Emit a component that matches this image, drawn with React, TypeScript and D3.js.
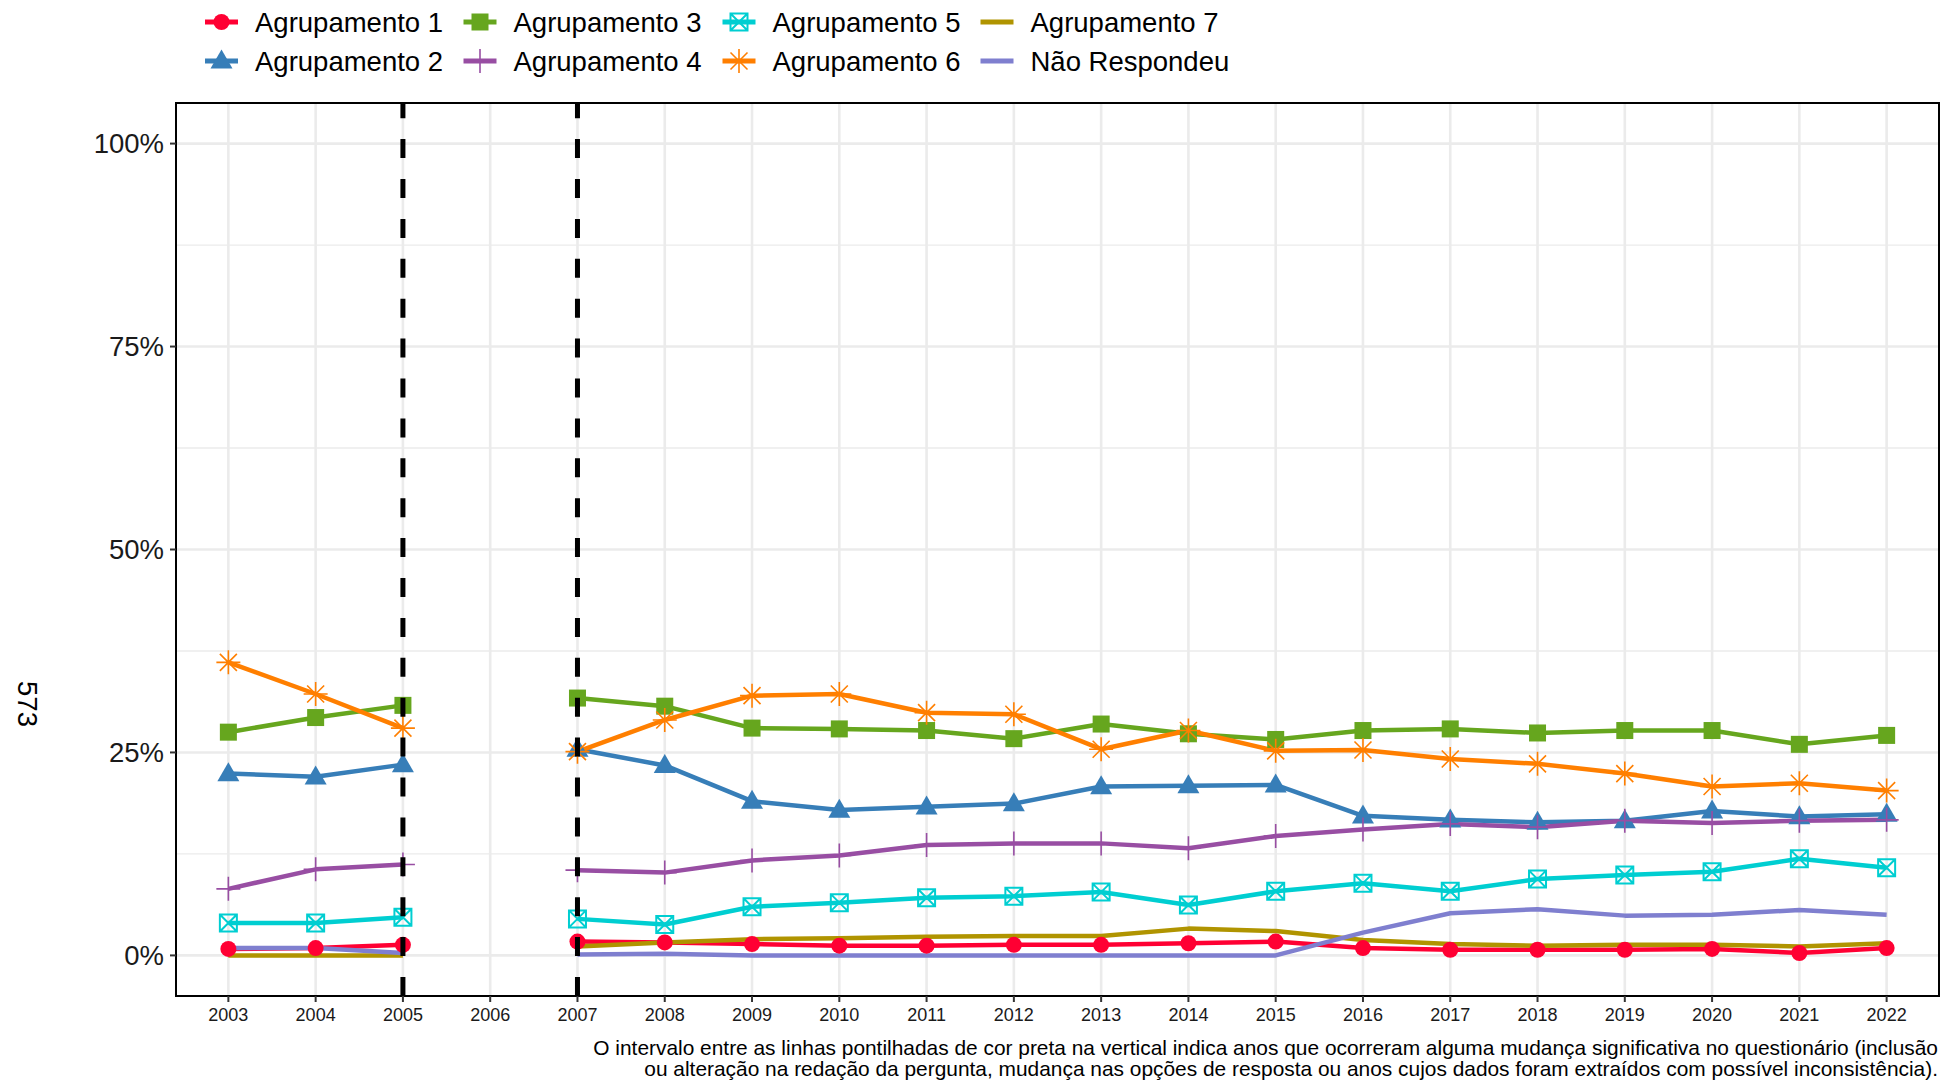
import React from "react";
import * as d3 from "d3";

const years = ["2003","2004","2005","2006","2007","2008","2009","2010","2011","2012","2013","2014","2015","2016","2017","2018","2019","2020","2021","2022"];

const agrup1 = [0.8, 0.9, 1.3, null, 1.7, 1.6, 1.4, 1.2, 1.2, 1.3, 1.3, 1.5, 1.7, 0.9, 0.7, 0.7, 0.7, 0.8, 0.3, 0.9];
const agrup2 = [22.4, 22.0, 23.5, null, 25.4, 23.4, 19.0, 17.9, 18.3, 18.7, 20.8, 20.9, 21.0, 17.2, 16.7, 16.4, 16.6, 17.8, 17.1, 17.4];
const agrup3 = [27.5, 29.3, 30.8, null, 31.7, 30.7, 28.0, 27.9, 27.7, 26.7, 28.5, 27.3, 26.6, 27.7, 27.9, 27.4, 27.7, 27.7, 26.0, 27.1];
const agrup4 = [8.2, 10.6, 11.2, null, 10.5, 10.2, 11.7, 12.3, 13.6, 13.8, 13.8, 13.2, 14.7, 15.5, 16.2, 15.8, 16.6, 16.3, 16.6, 16.7];
const agrup5 = [4.0, 4.0, 4.7, null, 4.5, 3.8, 6.0, 6.5, 7.1, 7.3, 7.8, 6.2, 7.9, 8.9, 7.9, 9.4, 9.9, 10.3, 11.9, 10.8];
const agrup6 = [36.1, 32.2, 28.0, null, 25.1, 29.0, 32.0, 32.2, 29.9, 29.7, 25.4, 27.7, 25.2, 25.3, 24.2, 23.6, 22.4, 20.8, 21.2, 20.3];
const agrup7 = [0.0, 0.0, 0.0, null, 1.1, 1.6, 2.0, 2.1, 2.3, 2.4, 2.4, 3.3, 3.0, 1.9, 1.4, 1.2, 1.3, 1.3, 1.1, 1.5];
const naoResp = [0.9, 0.9, 0.3, null, 0.1, 0.2, 0.0, 0.0, 0.0, 0.0, 0.0, 0.0, 0.0, 2.8, 5.2, 5.7, 4.9, 5.0, 5.6, 5.0];

const seriesNames = ["Agrupamento 1", "Agrupamento 2", "Agrupamento 3", "Agrupamento 4", "Agrupamento 5", "Agrupamento 6", "Agrupamento 7", "Não Respondeu"];
const seriesValues = [agrup1, agrup2, agrup3, agrup4, agrup5, agrup6, agrup7, naoResp];
const seriesColors = ["#FF0033", "#377EB8", "#66A61E", "#984EA3", "#00CED1", "#FF7F00", "#B09400", "#7F7FCF"];
const seriesShapes = ["circle", "triangle", "square", "plus", "boxx", "asterisk", "none", "none"];

const yTicks = [0, 25, 50, 75, 100];
const yMinor = [12.5, 37.5, 62.5, 87.5];
const markerYears = ["2005", "2007"];
const yTitle = "573";
const captionLines = [
  "O intervalo entre as linhas pontilhadas de cor preta na vertical indica anos que ocorreram alguma mudança significativa no questionário (inclusão",
  "ou alteração na redação da pergunta, mudança nas opções de resposta ou anos cujos dados foram extraídos com possível inconsistência).",
];

const FONT = "'Liberation Sans', Arial, Helvetica, sans-serif";

function Marker({ shape, color, cx, cy, s = 1 }) {
  if (shape === "circle") return <circle cx={cx} cy={cy} r={8 * s} fill={color} />;
  if (shape === "triangle") {
    const w = 11 * s, h = 19 * s;
    return <path d={`M${cx},${cy - h * 0.6} L${cx + w},${cy + h * 0.4} L${cx - w},${cy + h * 0.4} Z`} fill={color} />;
  }
  if (shape === "square") {
    const a = 8.5 * s;
    return <rect x={cx - a} y={cy - a} width={2 * a} height={2 * a} fill={color} />;
  }
  if (shape === "plus") {
    const a = 12 * s;
    return <path d={`M${cx - a},${cy} H${cx + a} M${cx},${cy - a} V${cy + a}`} stroke={color} strokeWidth={1.6} fill="none" />;
  }
  if (shape === "boxx") {
    const a = 8.5 * s;
    return (
      <path
        d={`M${cx - a},${cy - a} H${cx + a} V${cy + a} H${cx - a} Z M${cx - a},${cy - a} L${cx + a},${cy + a} M${cx + a},${cy - a} L${cx - a},${cy + a}`}
        stroke={color} strokeWidth={2} fill="none"
      />
    );
  }
  if (shape === "asterisk") {
    const a = 12 * s, b = 8.5 * s;
    return (
      <path
        d={`M${cx - a},${cy} H${cx + a} M${cx},${cy - a} V${cy + a} M${cx - b},${cy - b} L${cx + b},${cy + b} M${cx + b},${cy - b} L${cx - b},${cy + b}`}
        stroke={color} strokeWidth={1.6} fill="none"
      />
    );
  }
  return null;
}

export default function App() {
  const W = 1944, H = 1082;
  const left = 176, right = 1939, top = 103, bottom = 996;

  const x = d3.scalePoint().domain(years).range([left, right]).padding(0.6);
  const y = d3.scaleLinear().domain([-5, 105]).range([bottom, top]);

  const line = d3
    .line()
    .defined((d) => d[1] != null)
    .x((d) => x(d[0]))
    .y((d) => y(d[1]));

  const legendKeyX = [221.5, 480, 739, 997];
  const legendRowY = [22, 61];

  return (
    <div style={{ position: "absolute", left: 0, top: 0 }}>
      <svg width={W} height={H} style={{ display: "block", background: "#fff" }} fontFamily={FONT}>
        <rect x={0} y={0} width={W} height={H} fill="#fff" />
        <clipPath id="panelClip">
          <rect x={left} y={top} width={right - left} height={bottom - top} />
        </clipPath>

        {/* grid */}
        {yMinor.map((t) => (
          <line key={"mn" + t} x1={left} x2={right} y1={y(t)} y2={y(t)} stroke="#EBEBEB" strokeWidth={1.3} />
        ))}
        {yTicks.map((t) => (
          <line key={"mj" + t} x1={left} x2={right} y1={y(t)} y2={y(t)} stroke="#EBEBEB" strokeWidth={2.6} />
        ))}
        {years.map((yr) => (
          <line key={"vx" + yr} x1={x(yr)} x2={x(yr)} y1={top} y2={bottom} stroke="#EBEBEB" strokeWidth={2.6} />
        ))}

        {/* lines */}
        {seriesValues.map((vals, i) => (
          <path
            key={"l" + i}
            d={line(years.map((yr, j) => [yr, vals[j]]))}
            fill="none"
            stroke={seriesColors[i]}
            strokeWidth={4.5}
            strokeLinejoin="round"
          />
        ))}

        {/* points */}
        {seriesValues.map((vals, i) =>
          years.map((yr, j) =>
            vals[j] == null ? null : (
              <Marker key={"p" + i + "-" + j} shape={seriesShapes[i]} color={seriesColors[i]} cx={x(yr)} cy={y(vals[j])} />
            )
          )
        )}

        {/* dashed vertical lines (drawn from bottom up) */}
        <g clipPath="url(#panelClip)">
          {markerYears.map((yr) => (
            <line key={"dv" + yr} x1={x(yr)} x2={x(yr)} y1={bottom} y2={top - 20} stroke="#000" strokeWidth={5} strokeDasharray="19,20.9" />
          ))}
        </g>

        {/* panel border */}
        <rect x={left} y={top} width={right - left} height={bottom - top} fill="none" stroke="#000" strokeWidth={2} />

        {/* y axis */}
        {yTicks.map((t) => (
          <g key={"yt" + t}>
            <line x1={left - 6} x2={left} y1={y(t)} y2={y(t)} stroke="#333" strokeWidth={2} />
            <text x={left - 12} y={y(t)} textAnchor="end" dominantBaseline="central" fontSize={27.5} fill="#1A1A1A">
              {t + "%"}
            </text>
          </g>
        ))}

        {/* x axis */}
        {years.map((yr) => (
          <g key={"xt" + yr}>
            <line x1={x(yr)} x2={x(yr)} y1={bottom} y2={bottom + 6} stroke="#333" strokeWidth={2} />
            <text x={x(yr)} y={1015} textAnchor="middle" dominantBaseline="central" fontSize={18} fill="#1A1A1A">
              {yr}
            </text>
          </g>
        ))}

        {/* y title */}
        <text
          transform={`translate(27,704) rotate(90)`}
          textAnchor="middle"
          dominantBaseline="central"
          fontSize={27.5}
          fill="#000"
        >
          {yTitle}
        </text>

        {/* legend */}
        {seriesNames.map((name, i) => {
          const col = Math.floor(i / 2);
          const row = i % 2;
          const kx = legendKeyX[col];
          const ky = legendRowY[row];
          return (
            <g key={"lg" + i}>
              <line x1={kx - 16.5} x2={kx + 16.5} y1={ky} y2={ky} stroke={seriesColors[i]} strokeWidth={5} />
              <Marker shape={seriesShapes[i]} color={seriesColors[i]} cx={kx} cy={ky} />
              <text x={kx + 33.5} y={ky} dominantBaseline="central" fontSize={27.5} fill="#000">
                {name}
              </text>
            </g>
          );
        })}

        {/* caption */}
        {captionLines.map((c, i) => (
          <text key={"cap" + i} x={1938} y={1047.5 + i * 21} textAnchor="end" dominantBaseline="central" fontSize={20.9} fill="#000">
            {c}
          </text>
        ))}
      </svg>
    </div>
  );
}
